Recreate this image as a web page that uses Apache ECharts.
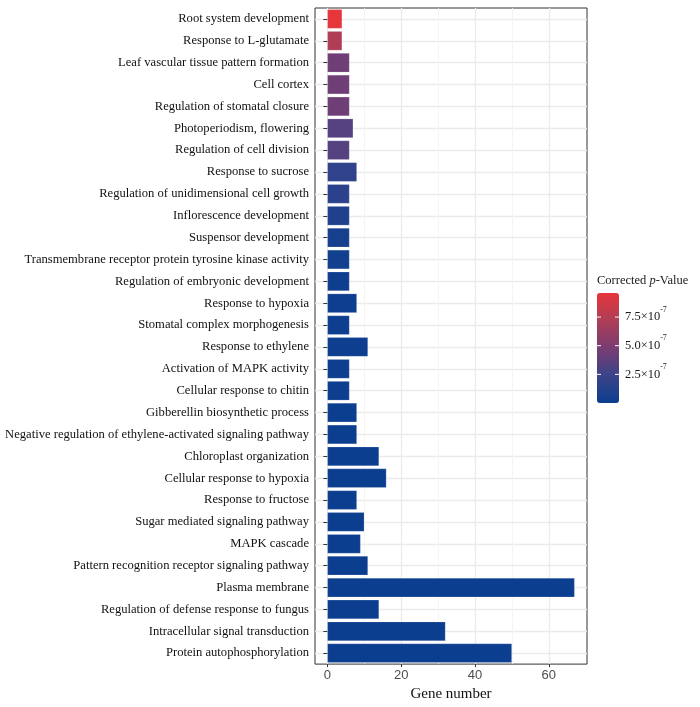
<!DOCTYPE html>
<html>
<head>
<meta charset="utf-8">
<script src="https://cdn.jsdelivr.net/npm/echarts@6/dist/echarts.min.js"></script>
<style>
  html, body { margin: 0; padding: 0; background: #fff; }
  #chart { width: 700px; height: 707px; }
</style>
</head>
<body>
<div id="chart"></div>
<script>
// GO terms, top to bottom as in the figure
const terms = [
  'Root system development',
  'Response to L-glutamate',
  'Leaf vascular tissue pattern formation',
  'Cell cortex',
  'Regulation of stomatal closure',
  'Photoperiodism, flowering',
  'Regulation of cell division',
  'Response to sucrose',
  'Regulation of unidimensional cell growth',
  'Inflorescence development',
  'Suspensor development',
  'Transmembrane receptor protein tyrosine kinase activity',
  'Regulation of embryonic development',
  'Response to hypoxia',
  'Stomatal complex morphogenesis',
  'Response to ethylene',
  'Activation of MAPK activity',
  'Cellular response to chitin',
  'Gibberellin biosynthetic process',
  'Negative regulation of ethylene-activated signaling pathway',
  'Chloroplast organization',
  'Cellular response to hypoxia',
  'Response to fructose',
  'Sugar mediated signaling pathway',
  'MAPK cascade',
  'Pattern recognition receptor signaling pathway',
  'Plasma membrane',
  'Regulation of defense response to fungus',
  'Intracellular signal transduction',
  'Protein autophosphorylation'
];
const geneNumber = [4, 4, 6, 6, 6, 7, 6, 8, 6, 6, 6, 6, 6, 8, 6, 11, 6, 6, 8, 8, 14, 16, 8, 10, 9, 11, 67, 14, 32, 50];
// corrected p-value
const pValue = [9.6e-7, 7.3e-7, 4.4e-7, 4.4e-7, 4.4e-7, 3.4e-7, 3.4e-7, 1.8e-7, 1.6e-7, 1.0e-7,
  0.5e-7, 0.3e-7, 0.2e-7, 0.1e-7, 0.1e-7, 0.05e-7, 0.05e-7, 0.05e-7, 0.02e-7, 0.02e-7,
  0.01e-7, 0.01e-7, 0.01e-7, 0.01e-7, 0.01e-7, 0.01e-7, 0.001e-7, 0.001e-7, 0.001e-7, 0.001e-7];
const majorTicks = [0, 20, 40, 60];
const minorTicks = [10, 30, 50];
const legendTicks = [2.5e-7, 5.0e-7, 7.5e-7];
const legendTickText = ['2.5', '5.0', '7.5'];

const pMin = 0, pMax = 9.6e-7;
const xMin = -3.35, xMax = 70.35;
const bar = { left: 597, top: 293, width: 22, height: 110 };
const serif = '"Liberation Serif", "DejaVu Serif", serif';

const chart = echarts.init(document.getElementById('chart'));

const legendGraphics = [
  {
    type: 'text', left: 597, top: 274,
    style: {
      text: '{a|Corrected }{i|p}{a|-Value}',
      rich: {
        a: { fontFamily: serif, fontSize: 12.5, fill: '#1a1a1a' },
        i: { fontFamily: serif, fontSize: 12.5, fontStyle: 'italic', fill: '#1a1a1a' }
      }
    }
  }
];
legendTicks.forEach((v, i) => {
  const y = bar.top + bar.height * (pMax - v) / (pMax - pMin);
  legendGraphics.push({
    type: 'text', left: bar.left + bar.width + 6, top: y - 11.5, z: 10,
    style: {
      text: '{m|' + legendTickText[i] + '×10}{s|-7}',
      rich: {
        m: { fontFamily: serif, fontSize: 12.5, fill: '#1a1a1a', lineHeight: 18, verticalAlign: 'bottom' },
        s: { fontFamily: serif, fontSize: 8, fill: '#1a1a1a', lineHeight: 18, verticalAlign: 'top' }
      }
    }
  });
  legendGraphics.push({ type: 'line', z: 10, shape: { x1: bar.left, y1: y, x2: bar.left + 4, y2: y }, style: { stroke: '#fff', lineWidth: 1 } });
  legendGraphics.push({ type: 'line', z: 10, shape: { x1: bar.left + bar.width - 4, y1: y, x2: bar.left + bar.width, y2: y }, style: { stroke: '#fff', lineWidth: 1 } });
});

const option = {
  backgroundColor: '#fff',
  animation: false,
  grid: {
    left: 315, right: 113, top: 8, bottom: 40,
    show: true, borderColor: '#333', borderWidth: 1, backgroundColor: 'transparent'
  },
  xAxis: [
    {
      type: 'value', min: xMin, max: xMax,
      name: 'Gene number', nameLocation: 'middle', nameGap: 19,
      nameTextStyle: { fontFamily: serif, fontSize: 15, color: '#111' },
      axisLine: { show: false },
      axisTick: { show: true, customValues: majorTicks, length: 3, lineStyle: { color: '#333' } },
      axisLabel: { customValues: majorTicks, fontFamily: '"Liberation Sans", Arial, sans-serif', fontSize: 13, color: '#4d4d4d', margin: 5 },
      splitLine: { show: true, lineStyle: { color: '#ebebeb', width: 1.3 } }
    },
    {
      type: 'value', min: xMin, max: xMax, position: 'bottom',
      axisLine: { show: false },
      axisTick: { show: false, customValues: minorTicks },
      axisLabel: { show: false },
      splitLine: { show: true, lineStyle: { color: '#f2f2f2', width: 0.8 } }
    }
  ],
  yAxis: {
    type: 'category', data: terms, inverse: true,
    axisLine: { show: false },
    axisTick: { show: true, alignWithLabel: true, length: 4, lineStyle: { color: '#333' } },
    axisLabel: { fontFamily: serif, fontSize: 12.6, color: '#111', margin: 6, interval: 0 },
    splitLine: { show: true, alignWithLabel: true, lineStyle: { color: '#ebebeb', width: 1.3 } }
  },
  visualMap: {
    type: 'continuous', seriesIndex: 0, dimension: 2,
    min: pMin, max: pMax, calculable: false, text: null,
    orient: 'vertical', left: bar.left, top: bar.top, padding: 0,
    itemWidth: bar.width, itemHeight: bar.height,
    inRange: { color: ['#0c3e8f', '#3b4389', '#793d72', '#ae3d57', '#e6363b'] },
    hoverLink: false
  },
  graphic: legendGraphics,
  series: [{
    type: 'bar', xAxisIndex: 0,
    data: terms.map((t, i) => [geneNumber[i], t, pValue[i]]),
    encode: { x: 0, y: 1 },
    barCategoryGap: '12%',
    itemStyle: { borderColor: 'rgba(255,255,255,0.35)', borderWidth: 0.5 },
    z: 3
  }]
};
chart.setOption(option);
</script>
</body>
</html>
